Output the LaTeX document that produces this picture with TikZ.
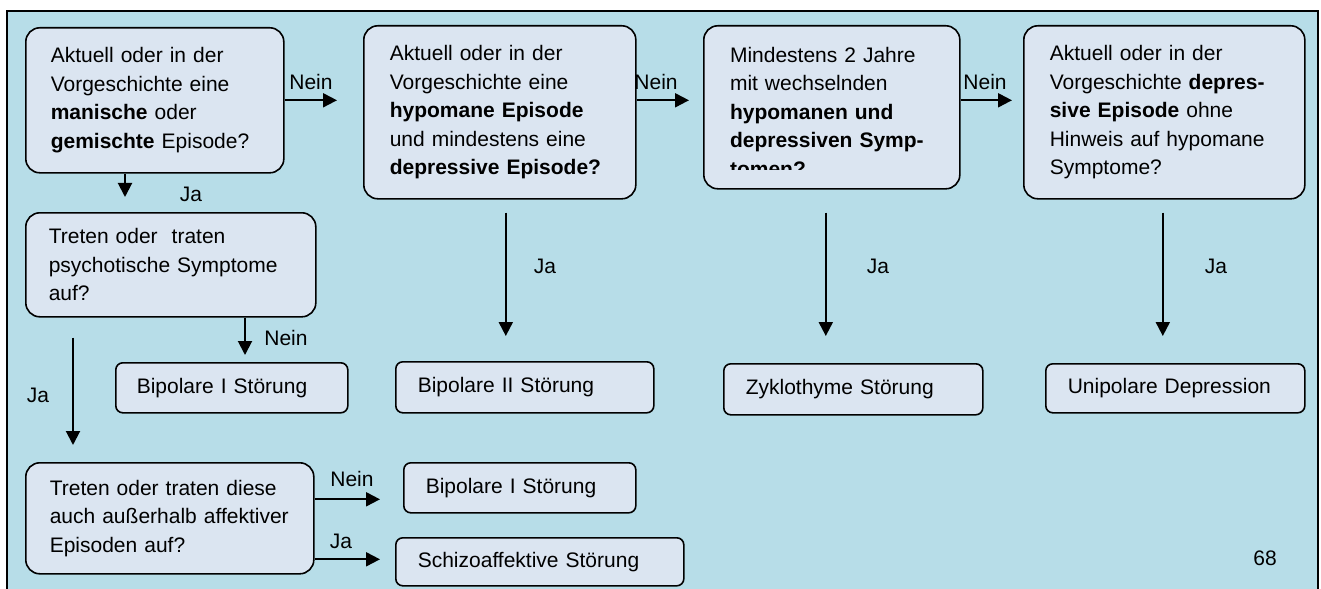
\documentclass[tikz,border=0pt]{standalone}
\usepackage{fontspec}
\setmainfont{Liberation Sans}
\usetikzlibrary{arrows.meta}
\definecolor{hintergrund}{RGB}{183,221,232}
\definecolor{kasten}{RGB}{219,229,241}
\newcommand{\schrift}{\fontsize{21bp}{28.5bp}\selectfont}
\tikzset{
  frage/.style={draw, line width=1.6bp, rounded corners=14bp, fill=kasten, anchor=north west, align=left, font=\schrift, inner ysep=0pt},
  ergebnis/.style={draw, line width=1.6bp, rounded corners=7bp, fill=kasten, anchor=north west, align=left, font=\schrift, inner xsep=22bp, inner ysep=0pt},
  pfeil/.style={line width=2bp, -{Triangle[length=14bp,width=14bp]}},
  beschr/.style={font=\schrift, inner sep=0pt}
}

\begin{document}
\begin{tikzpicture}[x=1bp,y=-1bp]
\useasboundingbox (0,0) rectangle (1321,589);
\clip (0,0) rectangle (1321,589);
\draw[line width=1.2bp, fill=hintergrund] (7,11) rectangle (1318,620); % frame
% questions
\node[frage, inner xsep=25bp, text width=208bp, minimum height=145bp] (manisch) at (25,27)
  {Aktuell oder in der\\Vorgeschichte eine\\\textbf{manische} oder\\\textbf{gemischte} Episode?};
\node[frage, inner xsep=26bp, text width=220bp, minimum height=173bp] (hypoman) at (363,25)
  {Aktuell oder in der\\Vorgeschichte eine\\\textbf{hypomane Episode}\\und mindestens eine\\\textbf{depressive Episode?}};
\node[frage, inner xsep=27bp, text width=202bp, minimum height=163bp] (zyklisch) at (703,25) {};
\begin{scope}
\clip (703,25) rectangle (959,170);
\node[beschr, align=left, text width=202bp] (zyklischtext) at (831,111.5)
  {Mindestens 2 Jahre\\mit wechselnden\\\textbf{hypomanen und}\\\textbf{depressiven Symp-}\\\textbf{tomen?}};
\end{scope}
\node[frage, inner xsep=26bp, text width=229bp, minimum height=173bp] (depressiv) at (1023,25)
  {Aktuell oder in der\\Vorgeschichte \textbf{depres-}\\\textbf{sive Episode} ohne\\Hinweis auf hypomane\\Symptome?};
\node[frage, inner xsep=23bp, text width=244bp, minimum height=104bp] (psychotisch) at (25,212)
  {Treten oder~ traten\\psychotische Symptome\\auf?};
\node[frage, inner xsep=24bp, text width=240bp, minimum height=111bp] (ausserhalb) at (25,462)
  {Treten oder traten diese\\auch außerhalb affektiver\\Episoden auf?};
% results
\node[ergebnis, inner xsep=21bp, text width=190bp, minimum height=50bp] (bipI) at (115,362) {Bipolare I Störung};
\node[ergebnis, text width=214bp, minimum height=51bp] (bipII) at (395,361) {Bipolare II Störung};
\node[ergebnis, text width=215bp, minimum height=51bp] (zyklothym) at (723,363) {Zyklothyme Störung};
\node[ergebnis, text width=215bp, minimum height=49bp] (unipolar) at (1045,363) {Unipolare Depression};
\node[ergebnis, text width=188bp, minimum height=50bp] (bipIb) at (403,462) {Bipolare I Störung};
\node[ergebnis, text width=244bp, minimum height=48bp] (schizo) at (395,537) {Schizoaffektive Störung};
% Nein to the right
\draw[pfeil, shorten >=26bp] (manisch.east) -- (manisch.east -| hypoman.west);
\draw[pfeil, shorten >=14bp] (hypoman.east |- manisch.east) -- (manisch.east -| zyklisch.west);
\draw[pfeil, shorten >=11bp] (zyklisch.east |- manisch.east) -- (manisch.east -| depressiv.west);
\foreach \lx [count=\i] in {311,656,985}
\node[beschr] (nein\i) at (\lx,82) {Nein};
% Ja downwards
\foreach \q/\r/\dx/\a/\b/\lx in {hypoman/bipII/6/13/25/545, zyklisch/zyklothym/-6/23/27/878, depressiv/unipolar/-1.5/13/27/1216}{
\draw[pfeil, shorten <=\a bp, shorten >=\b bp] ([xshift=\dx bp]\q.south) -- ([xshift=\dx bp]\q.south |- \r.north);
\node[beschr] (ja\r) at (\lx,266) {Ja};}
% left column
\draw[pfeil, shorten >=15bp] ([xshift=100bp]manisch.south west) -- ([xshift=100bp]manisch.south west |- psychotisch.north);
\node[beschr] (jamanisch) at (191,194) {Ja};
\draw[pfeil, shorten >=7bp] ([xshift=220bp]psychotisch.south west) -- ([xshift=220bp]psychotisch.south west |- bipI.north);
\node[beschr] (neinpsych) at (286,338) {Nein};
\draw[pfeil, shorten <=20bp, shorten >=17bp] ([xshift=48bp]psychotisch.south west) -- ([xshift=48bp]psychotisch.south west |- ausserhalb.north);
\node[beschr] (japsych) at (38,395) {Ja};
\draw[pfeil, shorten >=23bp] ([yshift=19bp]ausserhalb.east) -- ([yshift=19bp]ausserhalb.east -| bipIb.west);
\node[beschr] (neinausser) at (352,479) {Nein};
\draw[pfeil, shorten >=15bp] ([yshift=-41bp]ausserhalb.east) -- ([yshift=-41bp]ausserhalb.east -| schizo.west);
\node[beschr] (jaausser) at (341,541) {Ja};
\node[beschr] (seite) at (1265,558) {68};
\end{tikzpicture}
\end{document}
